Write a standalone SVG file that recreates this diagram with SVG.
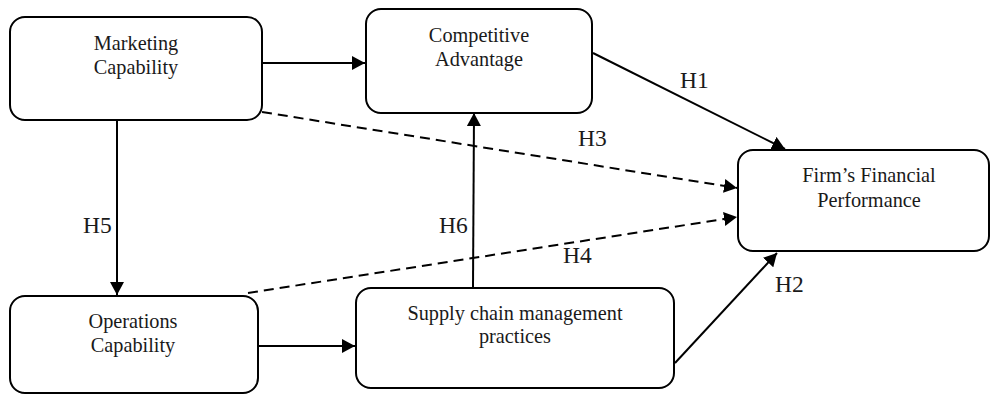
<svg xmlns="http://www.w3.org/2000/svg" width="991" height="394" viewBox="0 0 991 394">
<defs>
<style>
.box{fill:#fff;stroke:#000;stroke-width:2}
.t{font-family:"Liberation Serif","Times New Roman",serif;font-size:20.3px;fill:#1a1a1a;text-anchor:middle}
.lbl{font-family:"Liberation Serif","Times New Roman",serif;font-size:23.5px;fill:#1a1a1a}
.c{fill:none;stroke:#000;stroke-width:2;marker-end:url(#ah)}
.d{stroke-dasharray:10,6}
</style>
<marker id="ah" markerUnits="userSpaceOnUse" markerWidth="14" markerHeight="14" refX="13" refY="7" orient="auto">
<path d="M0,0 L13,7 L0,14 z" fill="#000"/>
</marker>
</defs>
<rect width="991" height="394" fill="#fff"/>
<g id="connectors">
<line class="c" x1="262" y1="63" x2="365" y2="63"/>
<line class="c" x1="593" y1="53" x2="785" y2="149"/>
<line class="c d" x1="262" y1="112" x2="737" y2="188"/>
<line class="c d" x1="248" y1="293" x2="737" y2="217"/>
<line class="c" x1="675" y1="363" x2="777" y2="253"/>
<line class="c" x1="117" y1="120" x2="117" y2="295"/>
<line class="c" x1="258" y1="346" x2="355" y2="346"/>
<line class="c" x1="473" y1="288" x2="474" y2="113"/>
</g>
<g id="labels">
<text class="lbl" x="680" y="88">H1</text>
<text class="lbl" x="578" y="146">H3</text>
<text class="lbl" x="83" y="233">H5</text>
<text class="lbl" x="439" y="233">H6</text>
<text class="lbl" x="563" y="263">H4</text>
<text class="lbl" x="775" y="292">H2</text>
</g>
<g id="marketing">
<rect class="box" x="10" y="17" width="252" height="103" rx="15"/>
<text class="t" x="136" y="50">Marketing</text>
<text class="t" x="136" y="74">Capability</text>
</g>
<g id="competitive">
<rect class="box" x="366" y="9" width="226" height="104" rx="15"/>
<text class="t" x="479" y="42">Competitive</text>
<text class="t" x="479" y="66">Advantage</text>
</g>
<g id="ffp">
<rect class="box" x="738" y="150" width="251" height="101" rx="15"/>
<text class="t" x="869" y="182">Firm’s Financial</text>
<text class="t" x="869" y="207">Performance</text>
</g>
<g id="operations">
<rect class="box" x="10" y="296" width="248" height="97" rx="15"/>
<text class="t" x="133" y="328">Operations</text>
<text class="t" x="133" y="352">Capability</text>
</g>
<g id="scm">
<rect class="box" x="356" y="288" width="318" height="100" rx="15"/>
<text class="t" x="515" y="320">Supply chain management</text>
<text class="t" x="515" y="343">practices</text>
</g>
</svg>
